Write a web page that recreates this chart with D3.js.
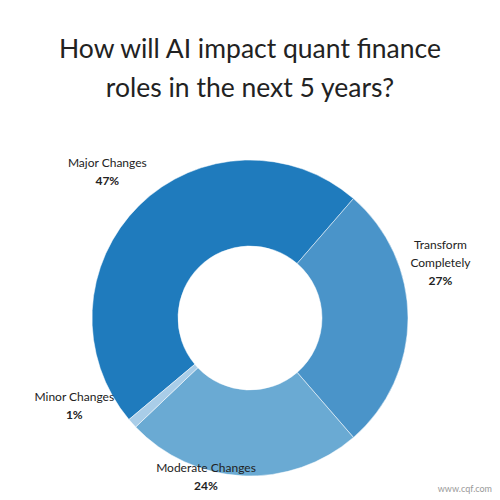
<!DOCTYPE html>
<html><head><meta charset="utf-8">
<script src="https://cdn.jsdelivr.net/npm/d3@7"></script>
<style>body{margin:0;background:#fff}text{font-family:Lato,"Open Sans",sans-serif}</style>
</head><body>
<svg id="chart" width="500" height="500"></svg>
<script>
const categories = ["Major Changes", "Transform Completely", "Moderate Changes", "Minor Changes"];
const values = [47, 27, 24, 1];
const colors = ["#1f7bbd", "#4a94c9", "#6aaad3", "#a9cde8"];
// label lines, and polar placement (degrees clockwise from top, radius)
const labelLines = [["Major Changes"], ["Transform", "Completely"], ["Moderate Changes"], ["Minor Changes"]];
const labelAngle = [312, 79, 194, 239];
const labelRadius = [192, 194, 182, 205];

const svg = d3.select("#chart");
const cx = 250, cy = 300, outer = 158, inner = 72;

svg.append("text").attr("x", 250).attr("y", 58).attr("text-anchor", "middle")
  .attr("font-size", 26.5).attr("fill", "#222").text("How will AI impact quant finance");
svg.append("text").attr("x", 250).attr("y", 97).attr("text-anchor", "middle")
  .attr("font-size", 26.5).attr("fill", "#222").text("roles in the next 5 years?");

const start = -130 * Math.PI / 180;
const pie = d3.pie().sort(null).startAngle(start).endAngle(start + 2 * Math.PI);
const arcs = pie(values);
const arc = d3.arc().innerRadius(inner).outerRadius(outer);

const g = svg.append("g").attr("transform", `translate(${cx},${cy + 18})`);
g.selectAll("path").data(arcs).enter().append("path")
  .attr("d", arc).attr("fill", (d, i) => colors[i])
  .attr("stroke", "#fff").attr("stroke-width", 0.5);

const lg = svg.append("g").attr("transform", `translate(${cx},${cy})`);
arcs.forEach((d, i) => {
  const a = labelAngle[i] * Math.PI / 180;
  const r = labelRadius[i];
  const x = Math.sin(a) * r, y = -Math.cos(a) * r;
  const lines = labelLines[i].concat([values[i] + "%"]);
  const t = lg.append("text").attr("text-anchor", "middle").attr("font-size", 12).attr("fill", "#222");
  const y0 = y - (lines.length - 1) * 9;
  lines.forEach((l, j) => {
    t.append("tspan").attr("x", x).attr("y", y0 + j * 18 + 4)
      .attr("font-weight", j === lines.length - 1 ? "bold" : "normal").text(l);
  });
});

svg.append("text").attr("x", 492).attr("y", 492).attr("text-anchor", "end")
  .attr("font-size", 9).attr("fill", "#999").text("www.cqf.com");
</script>
</body></html>
